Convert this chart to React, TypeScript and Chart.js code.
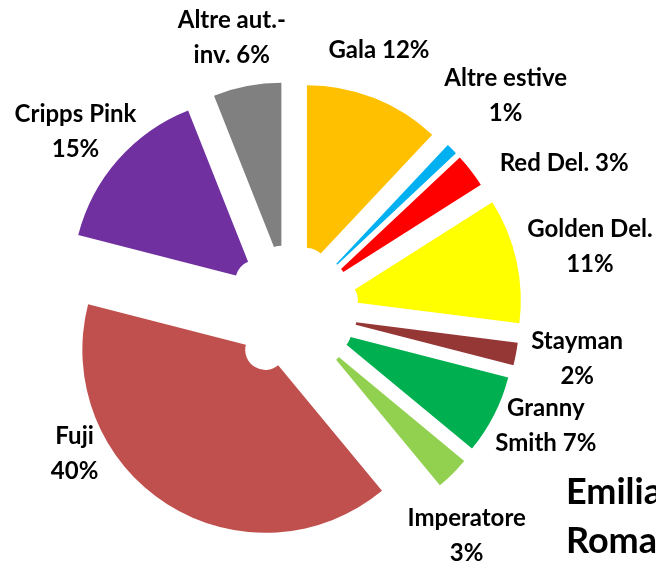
import React, { useEffect, useRef } from 'react';
import { Chart, registerables } from 'chart.js';

Chart.register(...registerables);

// ---- data ----
const categories = ['Gala', 'Altre estive', 'Red Del.', 'Golden Del.', 'Stayman', 'Granny Smith', 'Imperatore', 'Fuji', 'Cripps Pink', 'Altre aut.-inv.'];
const shares = [12, 1, 3, 11, 2, 7, 3, 40, 15, 6];
const sliceColors = ['#FFC000', '#00B0F0', '#FF0000', '#FFFF00', '#953735', '#00B050', '#92D050', '#C0504D', '#7030A0', '#808080'];
const firstLines = ['', 'Altre estive', '', 'Golden Del.', 'Stayman', 'Granny', 'Imperatore', 'Fuji', 'Cripps Pink', 'Altre aut.-'];
const titleLines = ['Emilia', 'Romagna'];

// ---- layout / style ----
const FONT = 'Lato, "Open Sans", sans-serif';
const LABEL_SIZE = 24;
const LINE_GAP = 35;
// outward shift of each exploded slice, in px
const explode = [46, 46, 46, 49, 47, 46, 47, 46, 46, 46];
const labelPad = [47, 76, 83, 75, 61, 51, 55, 29, 51, 51];
const labelTurn = [-2.8, 0, 9.3, 0.3, -1.5, -3, 6.7, 24.2, -1.4, -1.2];

// shifts every arc radially (exploded pie) after Chart.js has laid it out
const explodePlugin = {
  id: 'explodeSlices',
  afterDatasetUpdate(chart: any, args: any) {
    if (args.index !== 0) return;
    const meta = chart.getDatasetMeta(0);
    meta.data.forEach((arc: any, i: number) => {
      const mid = (arc.startAngle + arc.endAngle) / 2;
      arc.x += Math.cos(mid) * explode[i];
      arc.y += Math.sin(mid) * explode[i];
    });
  },
};

const labelPlugin = {
  id: 'sliceLabels',
  afterDraw(chart: any) {
    const ctx = chart.ctx as CanvasRenderingContext2D;
    const meta = chart.getDatasetMeta(0);
    ctx.save();
    ctx.fillStyle = '#000';
    ctx.textAlign = 'center';
    ctx.textBaseline = 'alphabetic';
    ctx.font = `bold ${LABEL_SIZE}px ${FONT}`;
    const cap = LABEL_SIZE * 0.72;
    meta.data.forEach((arc: any, i: number) => {
      const { x, y, startAngle, endAngle, outerRadius } = arc.getProps(['x', 'y', 'startAngle', 'endAngle', 'outerRadius'], true);
      const mid = (startAngle + endAngle) / 2;
      const x0 = x - Math.cos(mid) * explode[i];
      const y0 = y - Math.sin(mid) * explode[i];
      const a = mid + (labelTurn[i] * Math.PI) / 180;
      const d = outerRadius + explode[i] + labelPad[i];
      const cx = x0 + Math.cos(a) * d;
      const cy = y0 + Math.sin(a) * d;
      const full = `${categories[i]} ${shares[i]}%`;
      const lines = firstLines[i] ? [firstLines[i], full.slice(firstLines[i].length).trim()] : [full];
      lines.forEach((ln, k) => {
        const lc = cy + (k - (lines.length - 1) / 2) * LINE_GAP;
        ctx.fillText(ln, cx, lc + cap / 2);
      });
    });
    ctx.textAlign = 'left';
    ctx.font = `bold 36px ${FONT}`;
    ctx.fillText(titleLines[0], 566, 504);
    ctx.fillText(titleLines[1], 566, 553);
    ctx.restore();
  },
};

export default function App() {
  const ref = useRef<HTMLCanvasElement | null>(null);
  useEffect(() => {
    if (!ref.current) return;
    const chart = new Chart(ref.current, {
      type: 'pie',
      data: {
        labels: categories,
        datasets: [
          {
            data: shares,
            backgroundColor: sliceColors,
            borderWidth: 0,
          } as any,
        ],
      },
      options: {
        responsive: false,
        animation: false,
        radius: 183,
        cutout: '11%',
        events: [],
        layout: { padding: { left: 0, right: 76, top: 60, bottom: 0 } },
        plugins: { legend: { display: false }, tooltip: { enabled: false } },
      } as any,
      plugins: [explodePlugin, labelPlugin],
    });
    return () => chart.destroy();
  }, []);
  return (
    <div style={{ position: 'fixed', left: 0, top: 0, width: 656, height: 562, background: '#fff' }}>
      <canvas ref={ref} width={656} height={562} style={{ display: 'block' }} />
    </div>
  );
}
